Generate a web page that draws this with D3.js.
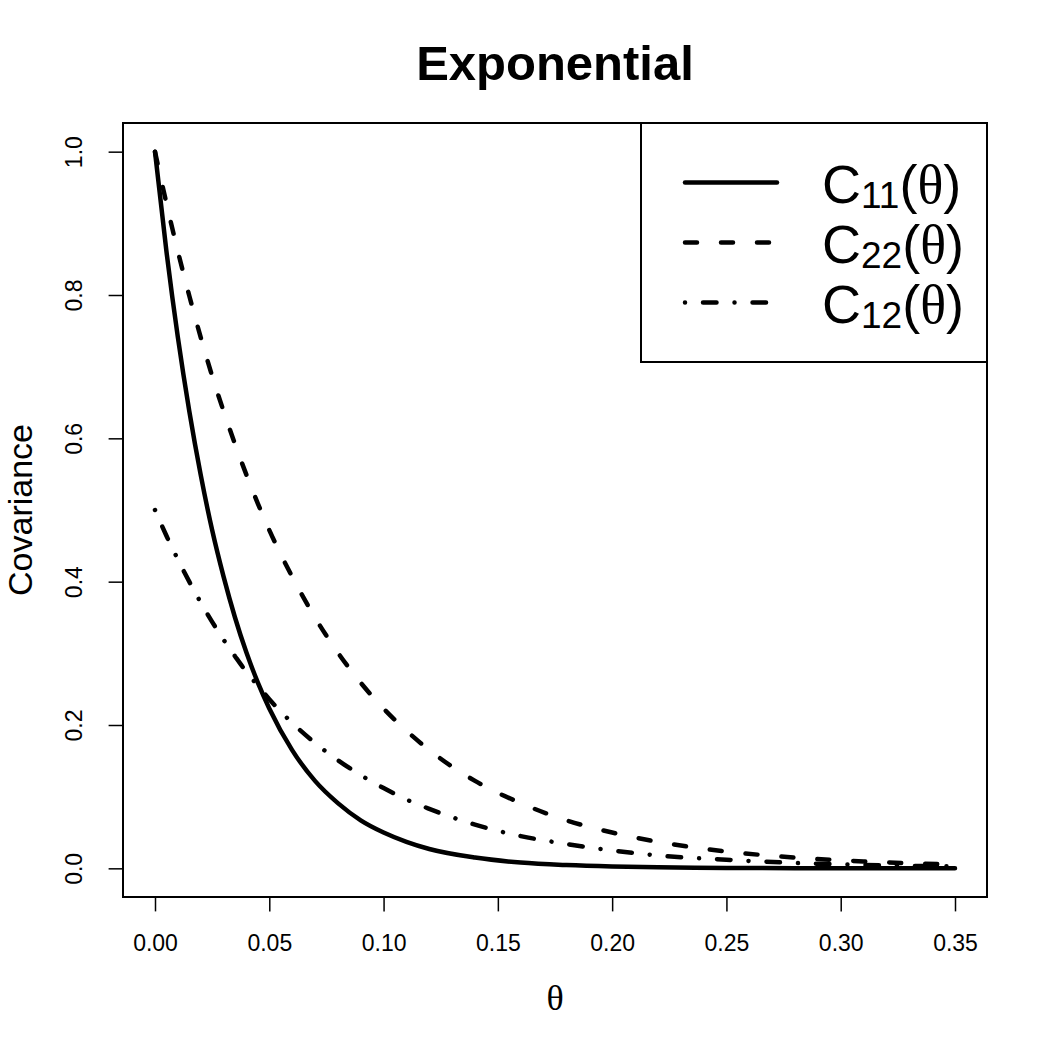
<!DOCTYPE html>
<html>
<head>
<meta charset="utf-8">
<title>Exponential</title>
<style>
  body { margin: 0; background: #fff; }
  text { font-family: "Liberation Sans", Arial, Helvetica, sans-serif; fill: #000; }
  .sym { font-family: "Liberation Serif", "DejaVu Serif", serif; }
</style>
</head>
<body>
<script src="https://cdnjs.cloudflare.com/ajax/libs/d3/7.8.5/d3.min.js"></script>
<script>

// values
var theta = [0, 0.005, 0.01, 0.015, 0.02, 0.025, 0.03, 0.035, 0.04, 0.045, 0.05, 0.06, 0.07, 0.08, 0.09, 0.10,
             0.11, 0.12, 0.14, 0.16, 0.18, 0.20, 0.22, 0.25, 0.28, 0.31, 0.35];
var c11 = [1.000, 0.861, 0.741, 0.638, 0.549, 0.472, 0.407, 0.350, 0.301, 0.259, 0.223, 0.165, 0.122, 0.091, 0.067, 0.050,
           0.037, 0.027, 0.015, 0.008, 0.0045, 0.0025, 0.0014, 0.0006, 0.0002, 0.0001, 0.0000];
var c22 = [1.000, 0.928, 0.861, 0.799, 0.741, 0.687, 0.638, 0.592, 0.549, 0.509, 0.472, 0.407, 0.350, 0.301, 0.259, 0.223,
           0.192, 0.165, 0.122, 0.091, 0.067, 0.050, 0.037, 0.0235, 0.015, 0.0096, 0.0052];
var c12 = [0.500, 0.464, 0.431, 0.400, 0.371, 0.344, 0.319, 0.296, 0.274, 0.255, 0.236, 0.203, 0.175, 0.151, 0.130, 0.112,
           0.096, 0.083, 0.061, 0.045, 0.034, 0.025, 0.018, 0.012, 0.0075, 0.0048, 0.0026];

var xTicks = [0, 0.05, 0.10, 0.15, 0.20, 0.25, 0.30, 0.35];
var yTicks = [0, 0.2, 0.4, 0.6, 0.8, 1.0];
var subs = ["11", "22", "12"];
var dashes = [null, "12,24", "0.01,18,13.5,18"];

var width = 1050,
    height = 1050,
    pLeft = 123, pRight = 987,
    pTop = 123, pBottom = 897,
    lineW = 4.5;

var svg = d3.select("body").append("svg")
    .attr("width", width)
    .attr("height", height);

svg.append("rect")
    .attr("width", width)
    .attr("height", height)
    .attr("fill", "#fff");

// R style 4% padding on both axes
var x = d3.scaleLinear().domain([-0.014, 0.364]).range([pLeft, pRight]);
var y = d3.scaleLinear().domain([-0.04, 1.04]).range([pBottom, pTop]);

var series = [c11, c22, c12].map(function(vals) {
  return vals.map(function(v, i) { return { t: theta[i], v: v }; });
});

var line = d3.line()
    .x(function(d) { return x(d.t); })
    .y(function(d) { return y(d.v); })
    .curve(d3.curveMonotoneX);

svg.selectAll(".series").data(series)
  .enter().append("path")
    .attr("class", "series")
    .attr("d", line)
    .attr("fill", "none")
    .attr("stroke", "#000")
    .attr("stroke-width", lineW)
    .attr("stroke-linecap", "round")
    .attr("stroke-linejoin", "round")
    .attr("stroke-dasharray", function(d, i) { return dashes[i]; });

// x axis
var gx = svg.append("g")
    .attr("transform", "translate(0," + pBottom + ")")
    .call(d3.axisBottom(x).tickValues(xTicks).tickFormat(d3.format(".2f")).tickSize(14.4).tickSizeOuter(0));
gx.select(".domain").remove();
gx.selectAll("line").attr("stroke", "#000").attr("stroke-width", 1.5);
gx.selectAll("text")
    .attr("y", 54).attr("dy", 0)
    .style("font-family", "\"Liberation Sans\", Arial, sans-serif")
    .style("font-size", "23px");

// y axis, labels turned like R's las = 0
var gy = svg.append("g")
    .attr("transform", "translate(" + pLeft + ",0)")
    .call(d3.axisLeft(y).tickValues(yTicks).tickFormat(d3.format(".1f")).tickSize(14.4).tickSizeOuter(0));
gy.select(".domain").remove();
gy.selectAll("line").attr("stroke", "#000").attr("stroke-width", 1.5);
gy.selectAll("text")
    .attr("x", null).attr("dy", 0)
    .attr("text-anchor", "middle")
    .attr("transform", "translate(-41,0) rotate(-90)")
    .style("font-family", "\"Liberation Sans\", Arial, sans-serif")
    .style("font-size", "23px");

// plot box
svg.append("rect")
    .attr("x", pLeft).attr("y", pTop)
    .attr("width", pRight - pLeft).attr("height", pBottom - pTop)
    .attr("fill", "none")
    .attr("stroke", "#000")
    .attr("stroke-width", 2);

// titles
svg.append("text")
    .attr("x", (pLeft + pRight) / 2).attr("y", 80)
    .attr("text-anchor", "middle")
    .attr("font-weight", "bold")
    .attr("font-size", 49)
    .text("Exponential");

svg.append("text")
    .attr("class", "sym")
    .attr("x", (pLeft + pRight) / 2).attr("y", 1010)
    .attr("text-anchor", "middle")
    .attr("font-size", 36)
    .text("θ");

svg.append("text")
    .attr("transform", "translate(32," + (pTop + pBottom) / 2 + ") rotate(-90)")
    .attr("text-anchor", "middle")
    .attr("font-size", 34)
    .text("Covariance");

// legend
var legend = svg.append("g");
legend.append("rect")
    .attr("x", 641).attr("y", pTop)
    .attr("width", pRight - 641).attr("height", 239)
    .attr("fill", "#fff")
    .attr("stroke", "#000")
    .attr("stroke-width", 2);

var rows = legend.selectAll(".row").data(subs)
  .enter().append("g")
    .attr("class", "row")
    .attr("transform", function(d, i) { return "translate(0," + (182.5 + i * 60) + ")"; });

rows.append("line")
    .attr("x1", 685).attr("x2", 777)
    .attr("stroke", "#000")
    .attr("stroke-width", lineW)
    .attr("stroke-linecap", "round")
    .attr("stroke-dasharray", function(d, i) { return dashes[i]; });

var lab = rows.append("text")
    .attr("x", 822).attr("y", 20)
    .attr("font-size", 54);
lab.append("tspan").text("C");
lab.append("tspan").attr("font-size", 37).attr("dy", 5).text(function(d) { return d; });
lab.append("tspan").attr("dy", -5).text("(");
lab.append("tspan").attr("class", "sym").text("θ");
lab.append("tspan").text(")");

</script>
</body>
</html>
